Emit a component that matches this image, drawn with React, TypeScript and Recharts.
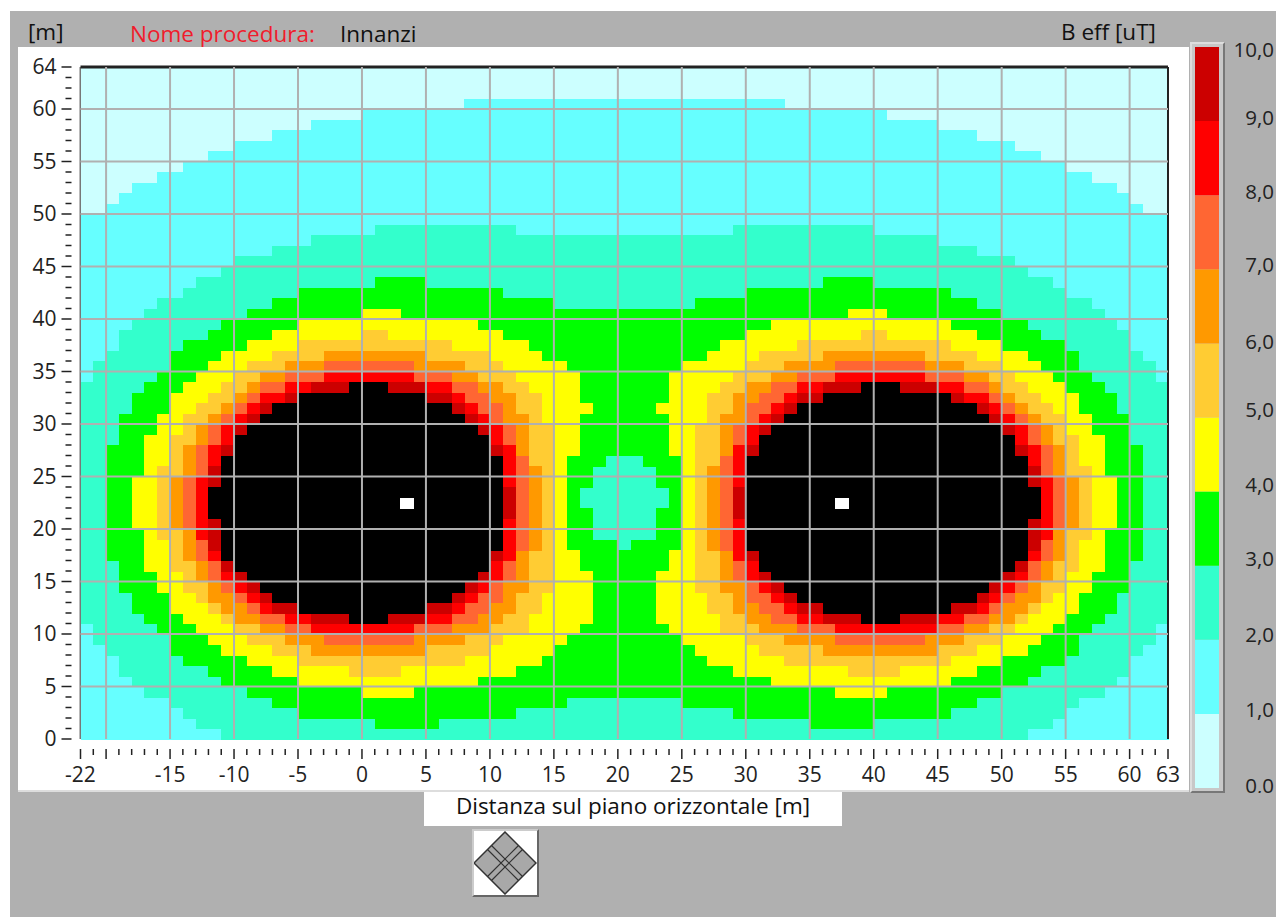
import React from 'react';
import { ScatterChart, Scatter, XAxis, YAxis, ReferenceLine, BarChart, Bar } from 'recharts';

// one letter per band: a = 0-1, b = 1-2 ... j = 9-10, k = over 10 (black), w = source marker
const bandKeys = ['a', 'b', 'c', 'd', 'e', 'f', 'g', 'h', 'i', 'j', 'k', 'w'];
const bandColors = ['#ccffff', '#66ffff', '#33ffcc', '#00ff00', '#ffff00', '#ffcc33', '#ff9900', '#ff6633', '#ff0000', '#cc0000', '#000000', '#ffffff'];
const scaleLabels = ['0,0', '1,0', '2,0', '3,0', '4,0', '5,0', '6,0', '7,0', '8,0', '9,0', '10,0'];
const scaleValues = [0, 1, 2, 3, 4, 5, 6, 7, 8, 9, 10];

const xLabels = [-22, -15, -10, -5, 0, 5, 10, 15, 20, 25, 30, 35, 40, 45, 50, 55, 60, 63];
const xGrid = [-20, -15, -10, -5, 0, 5, 10, 15, 20, 25, 30, 35, 40, 45, 50, 55, 60];
const yLabels = [0, 5, 10, 15, 20, 25, 30, 35, 40, 45, 50, 55, 60, 64];
const yGrid = [5, 10, 15, 20, 25, 30, 35, 40, 45, 50, 55, 60];

// field, row 63 first; each row is band + run length, 85 cells
const fieldRows = [
  'a85',
  'a85',
  'a85',
  'a30 b25 a30',
  'a22 b41 a22',
  'a18 b49 a18',
  'a15 b55 a15',
  'a12 b61 a12',
  'a10 b65 a10',
  'a8 b69 a8',
  'a6 b73 a6',
  'a4 b77 a4',
  'a3 b79 a3',
  'a2 b81 a2',
  'b85',
  'b23 c11 b17 c11 b23',
  'b18 c49 b18',
  'b15 c55 b15',
  'b12 c61 b12',
  'b11 c63 b11',
  'b9 c14 d4 c31 d4 c14 b9',
  'b8 c9 d16 c19 d16 c9 b8',
  'b6 c9 d22 c11 d22 c9 b6',
  'b5 c8 d9 e3 d35 e3 d9 c8 b5',
  'b4 c7 d6 e14 d23 e14 d6 c7 b4',
  'b3 c7 d5 e7 f2 e9 d19 e9 f2 e7 d5 c7 b3',
  'b3 c5 d5 e4 f12 e6 d15 e6 f12 e4 d5 c5 b3',
  'b2 c5 d4 e4 f4 g8 f5 e4 d13 e4 f5 g8 f4 e4 d4 c5 b2',
  'b1 c6 d3 e3 f3 g3 h7 g4 f3 e5 d9 e5 f3 g4 h7 g3 f3 e3 d3 c6 b1',
  'b1 c5 d3 e3 f2 g2 h3 i7 h3 g2 f3 e5 d7 e5 f3 g2 h3 i7 h3 g2 f2 e3 d3 c5 b1',
  'c5 d3 e3 f2 g1 h2 i2 j3 k3 j3 i2 h2 g2 f2 e4 d7 e4 f2 g2 h2 i2 j3 k3 j3 i2 h2 g1 f2 e3 d3 c5',
  'c4 d3 e3 f2 g1 h1 i2 j1 k10 j2 i1 h2 g2 f2 e3 d7 e3 f2 g2 h2 i1 j2 k10 j1 i2 h1 g1 f2 e3 d3 c4',
  'c4 d3 e2 f2 g1 h1 i1 j1 k14 j1 i1 h2 g1 f2 e4 d5 e4 f2 g1 h2 i1 j1 k14 j1 i1 h1 g1 f2 e2 d3 c4',
  'c3 d3 e2 f2 g1 h1 i1 j1 k16 j1 i1 h1 g2 f1 e3 d7 e3 f1 g2 h1 i1 j1 k16 j1 i1 h1 g1 f2 e2 d3 c3',
  'c3 d3 e2 f1 g1 h1 i1 j1 k18 j1 i1 h1 g1 f2 e2 d7 e2 f2 g1 h1 i1 j1 k18 j1 i1 h1 g1 f1 e2 d3 c3',
  'c3 d2 e2 f2 g1 h1 i1 k20 i1 h1 g1 f2 e2 d7 e2 f2 g1 h1 i1 k20 i1 h1 g1 f2 e2 d2 c3',
  'c2 d3 e2 f1 g1 h1 i1 j1 k20 j1 i1 g1 f2 e2 d7 e2 f2 g1 i1 j1 k20 j1 i1 h1 g1 f1 e2 d3 c2',
  'c2 d3 e2 f1 g1 h1 i1 k22 i1 h1 f2 e1 d3 c3 d3 e1 f2 h1 i1 k22 i1 h1 g1 f1 e2 d3 c2',
  'c2 d3 e1 f2 g1 h1 j1 k22 i1 h1 g1 f1 e1 d2 c5 d2 e1 f1 g1 h1 i1 k22 j1 h1 g1 f2 e1 d3 c2',
  'c2 d2 e2 f1 g1 h1 i1 j1 k22 i1 h1 g1 f1 e1 d2 c5 d2 e1 f1 g1 h1 i1 k22 j1 i1 h1 g1 f1 e2 d2 c2',
  'c2 d2 e2 f1 g1 h1 i1 k23 j1 h1 g1 f1 e1 d1 c7 d1 e1 f1 g1 h1 j1 k23 i1 h1 g1 f1 e2 d2 c2',
  'c2 d2 e2 f1 g1 h1 i1 k15 w1 k7 j1 h1 g1 f1 e1 d1 c7 d1 e1 f1 g1 h1 j1 k7 w1 k15 i1 h1 g1 f1 e2 d2 c2',
  'c2 d2 e2 f1 g1 h1 i1 k23 j1 h1 g1 f1 e1 d2 c5 d2 e1 f1 g1 h1 j1 k23 i1 h1 g1 f1 e2 d2 c2',
  'c2 d2 e2 f1 g1 h1 i1 j1 k22 i1 h1 g1 f1 e1 d2 c5 d2 e1 f1 g1 h1 i1 k22 j1 i1 h1 g1 f1 e2 d2 c2',
  'c2 d3 e1 f2 g1 i1 j1 k22 i1 h1 g1 f1 e1 d2 c5 d2 e1 f1 g1 h1 i1 k22 j1 i1 g1 f2 e1 d3 c2',
  'c2 d3 e2 f1 g1 h1 j1 k22 i1 h1 g1 f1 e1 d4 c1 d4 e1 f1 g1 h1 i1 k22 j1 h1 g1 f1 e2 d3 c2',
  'c2 d3 e2 f1 g1 h1 i1 k21 j1 i1 g1 f2 e2 d7 e2 f2 g1 i1 j1 k21 i1 h1 g1 f1 e2 d3 c2',
  'c3 d2 e2 f2 g1 h1 j1 k20 i1 h1 g1 f2 e2 d7 e2 f2 g1 h1 i1 k20 j1 h1 g1 f2 e2 d2 c3',
  'c3 d3 e2 f1 g1 h1 i1 j1 k18 j1 i1 h1 g1 f2 e3 d5 e3 f2 g1 h1 i1 j1 k18 j1 i1 h1 g1 f1 e2 d3 c3',
  'c3 d3 e2 f2 g1 h1 i1 j1 k16 j1 i1 h1 g2 f2 e3 d5 e3 f2 g2 h1 i1 j1 k16 j1 i1 h1 g1 f2 e2 d3 c3',
  'c4 d3 e2 f1 g2 h1 i1 j1 k14 j1 i1 h2 g1 f2 e4 d5 e4 f2 g1 h2 i1 j1 k14 j1 i1 h1 g2 f1 e2 d3 c4',
  'c4 d3 e3 f1 g2 h1 i1 j2 k10 j2 i1 h2 g2 f2 e4 d5 e4 f2 g2 h2 i1 j2 k10 j2 i1 h1 g2 f1 e3 d3 c4',
  'c5 d3 e3 f1 g2 h2 i2 j3 k3 j3 i2 h2 g2 f2 e5 d5 e5 f2 g2 h2 i2 j3 k3 j3 i2 h2 g2 f1 e3 d3 c5',
  'b1 c5 d3 e3 f2 g2 h2 i8 h3 g3 f3 e4 d7 e4 f3 g3 h3 i8 h2 g2 f2 e3 d3 c5 b1',
  'b1 c6 d3 e3 f3 g3 h7 g4 f3 e5 d9 e5 f3 g4 h7 g3 f3 e3 d3 c6 b1',
  'b2 c5 d4 e4 f3 g9 f5 e5 d11 e5 f5 g9 f3 e4 d4 c5 b2',
  'b3 c5 d5 e4 f13 e6 d13 e6 f13 e4 d5 c5 b3',
  'b3 c7 d5 e6 f4 e9 d17 e9 f4 e6 d5 c7 b3',
  'b4 c7 d6 e14 d23 e14 d6 c7 b4',
  'b5 c8 d9 e4 d33 e4 d9 c8 b5',
  'b7 c8 d23 c9 d23 c8 b7',
  'b8 c9 d17 c17 d17 c9 b8',
  'b9 c14 d5 c29 d5 c14 b9',
  'b11 c63 b11',
];

const FONT = '"Open Sans", sans-serif';
const CELL_W = 1087.5 / 85;
const CELL_H = 672 / 64;
// the scale labels do not sit exactly on their bands in the original
const SCALE_LABEL_SHIFT = [-2, -4, -5, -7, -7, -8, -1, -4, -3, -3, 3];

// every cell of the field as a point in metres, grouped by band
const cellsByBand = bandKeys.map((key) => {
  const cells: { x: number; y: number }[] = [];
  fieldRows.forEach((row, i) => {
    let col = 0;
    row.split(' ').forEach((run) => {
      const len = Number(run.slice(1));
      for (let n = 0; n < len; n++) {
        if (run[0] === key) cells.push({ x: -22 + col + n + 0.5, y: 63 - i + 0.5 });
      }
      col += len;
    });
  });
  return cells;
});

const everyX = Array.from({ length: 86 }, (_, i) => i - 22);
const everyY = Array.from({ length: 65 }, (_, i) => i);

const CellShape = (props: any) => (
  <rect
    x={props.cx - CELL_W / 2}
    y={props.cy - CELL_H / 2}
    width={CELL_W + 0.5}
    height={CELL_H + 0.5}
    fill={props.fill}
    shapeRendering="crispEdges"
  />
);

const XTick = ({ x, y, payload }: any) => {
  const major = payload.value % 5 === 0 || xLabels.includes(payload.value);
  return (
    <g>
      <line x1={x} x2={x} y1={y + 4} y2={y + (major ? 14 : 10)} stroke="#222" strokeWidth={1.5} />
      {xLabels.includes(payload.value) && (
        <text x={x} y={y + 37} textAnchor="middle" fontSize={21} fill="#222" fontFamily={FONT}>
          {payload.value}
        </text>
      )}
    </g>
  );
};

const YTick = ({ x, y, payload }: any) => {
  const labelled = yLabels.includes(payload.value);
  return (
    <g>
      <line x1={x - (labelled ? 13 : 9)} x2={x - 3} y1={y} y2={y} stroke="#222" strokeWidth={1.5} />
      {labelled && (
        <text x={x - 18} y={y + 7} textAnchor="end" fontSize={21} fill="#222" fontFamily={FONT}>
          {payload.value}
        </text>
      )}
    </g>
  );
};

const ScaleTick = ({ y, payload }: any) => (
  <text x={1274 - 1195} y={y + 7 + SCALE_LABEL_SHIFT[payload.value]} textAnchor="end" fontSize={20.5} fill="#222" fontFamily={FONT}>
    {scaleLabels[payload.value]}
  </text>
);

const scaleData = [Object.fromEntries(scaleValues.slice(1).map((v) => ['band' + v, 1]))];

const label = (text: string, left: number, top: number, color = '#111') => (
  <div style={{ position: 'absolute', left, top, fontFamily: FONT, fontSize: 22.5, lineHeight: '24px', color, whiteSpace: 'nowrap' }}>{text}</div>
);

export default function App() {
  return (
    <div style={{ position: 'absolute', left: 0, top: 0, width: 1276, height: 917, background: '#fff', overflow: 'hidden' }}>
      <div style={{ position: 'absolute', left: 10, top: 11, width: 1266, height: 906, background: '#b0b0b0' }} />
      {label('[m]', 28, 20)}
      {label('Nome procedura:', 130, 22, '#f01c2c')}
      {label('Innanzi', 340, 22)}
      {label('B eff [uT]', 1061, 20)}

      {/* white panel with the field */}
      <div style={{ position: 'absolute', left: 18, top: 47, width: 1171, height: 743, background: '#fff', borderBottom: '2px solid #ddd' }}>
        <ScatterChart width={1165} height={743} margin={{ top: 20, right: 15, bottom: 0, left: 0 }}>
          <XAxis
            type="number"
            dataKey="x"
            domain={[-22, 63]}
            ticks={everyX}
            interval={0}
            height={51}
            axisLine={false}
            tickLine={false}
            tickMargin={0}
            tick={XTick}
          />
          <YAxis
            type="number"
            dataKey="y"
            domain={[0, 64]}
            ticks={everyY}
            interval={0}
            width={62.5}
            axisLine={{ stroke: '#777', strokeWidth: 2 }}
            tickLine={false}
            tickMargin={0}
            tick={YTick}
          />
          {cellsByBand.map((cells, i) => (
            <Scatter key={i} data={cells} fill={bandColors[i]} shape={CellShape} isAnimationActive={false} />
          ))}
          <ReferenceLine y={64} stroke="#222" strokeWidth={3} zIndex={700} />
          <ReferenceLine x={63} stroke="#222" strokeWidth={2} zIndex={700} />
          {xGrid.map((v) => (
            <ReferenceLine key={v} x={v} stroke="#b0b0b0" strokeWidth={2} zIndex={800} />
          ))}
          {yGrid.map((v) => (
            <ReferenceLine key={v} y={v} stroke="#b0b0b0" strokeWidth={2} zIndex={800} />
          ))}
        </ScatterChart>
      </div>

      {/* colour scale */}
      <div style={{ position: 'absolute', left: 1190, top: 42, width: 35, height: 751, boxSizing: 'border-box', background: '#c8c8c8', borderLeft: '2px solid #ddd', borderTop: '2px solid #ddd', borderRight: '2px solid #777', borderBottom: '2px solid #777' }} />
      <div style={{ position: 'absolute', left: 1195, top: 37, width: 81 }}>
        <BarChart width={81} height={761} data={scaleData} barCategoryGap={0} margin={{ top: 10, right: 0, bottom: 10, left: 0 }}>
          <XAxis hide />
          <YAxis
            orientation="right"
            type="number"
            domain={[0, 10]}
            ticks={scaleValues}
            interval={0}
            width={57}
            axisLine={false}
            tickLine={false}
            tickMargin={0}
            tick={ScaleTick}
          />
          {scaleValues.slice(1).map((v) => (
            <Bar key={v} dataKey={'band' + v} stackId="scale" fill={bandColors[v - 1]} isAnimationActive={false} />
          ))}
        </BarChart>
      </div>
      <div style={{ position: 'absolute', left: 1226, top: 793, width: 50, height: 30, background: '#b0b0b0' }} />

      {/* axis title */}
      <div style={{ position: 'absolute', left: 424, top: 792, width: 418, height: 34, background: '#fff', textAlign: 'center', fontFamily: FONT, fontSize: 22.5, lineHeight: '28px', color: '#111' }}>
        Distanza sul piano orizzontale [m]
      </div>

      {/* zoom button */}
      <div style={{ position: 'absolute', left: 472, top: 829, width: 67, height: 68, boxSizing: 'border-box', background: '#fff', borderTop: '2px solid #ccc', borderLeft: '2px solid #ccc', borderRight: '2px solid #666', borderBottom: '2px solid #666' }}>
        <svg width={63} height={64} style={{ display: 'block' }}>
          <polygon points="31,1 62,32 31,63 0,32" fill="#a8a8a8" stroke="#333" strokeWidth={1.5} />
          <path d="M17.5,14.5 L48.5,45.5 M13.5,18.5 L44.5,49.5 M44.5,14.5 L13.5,45.5 M48.5,18.5 L17.5,49.5" stroke="#333" strokeWidth={1.2} fill="none" />
        </svg>
      </div>
    </div>
  );
}
